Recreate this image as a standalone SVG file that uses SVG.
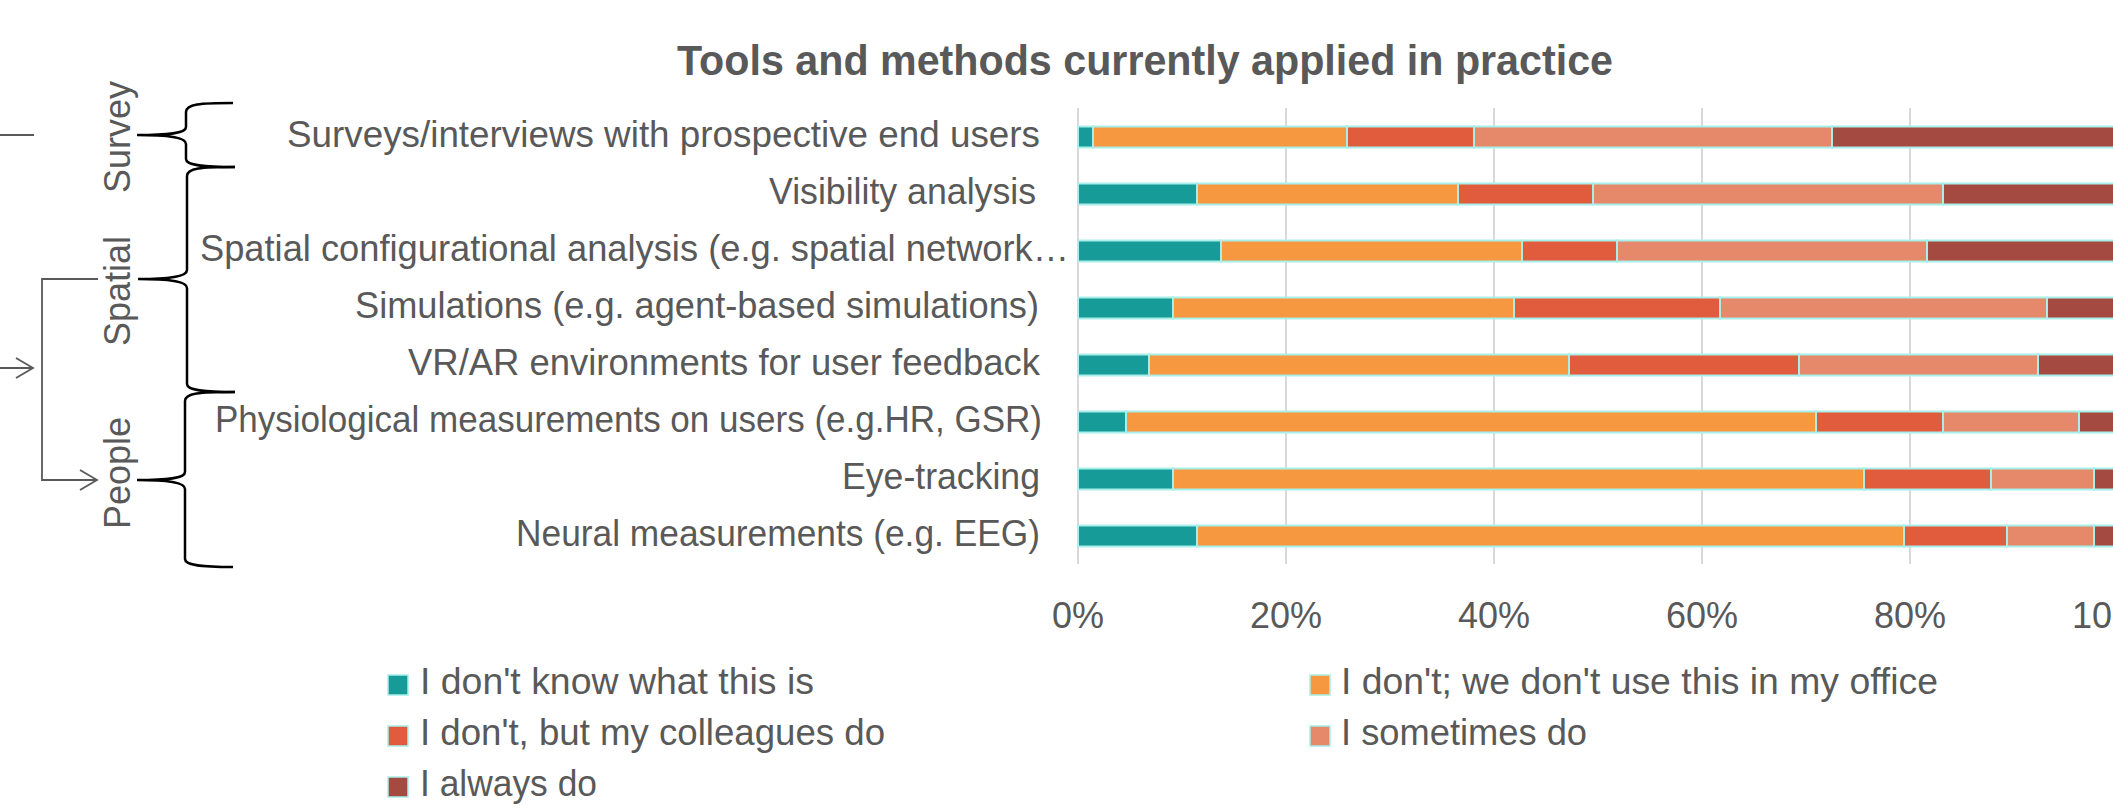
<svg xmlns="http://www.w3.org/2000/svg" width="2113" height="809" viewBox="0 0 2113 809">
<style>
text{font-family:"Liberation Sans",Arial,sans-serif;fill:#595959}
.t{font-size:36px}
.lbl{font-size:36px;text-anchor:end}
.tick{font-size:36px;text-anchor:middle}
.title{font-size:42px;font-weight:bold}
.grid{stroke:#d9d9d9;stroke-width:2}
.brace{fill:none;stroke:#000;stroke-width:2.5}
.conn{fill:none;stroke:#595959;stroke-width:1.8}
.s{stroke:#a8efea;stroke-width:2}
.a{fill:#169b98}.b{fill:#f5983f}.c{fill:#e05c3d}.d{fill:#e6896a}.e{fill:#a54a40}
.sw{stroke:#a8efea;stroke-width:1.5}
</style>
<defs>
<marker id="arr" markerUnits="userSpaceOnUse" markerWidth="20" markerHeight="24" refX="18" refY="11" orient="auto">
<path d="M1,1 L18,11 L1,21" fill="none" stroke="#595959" stroke-width="1.8"/>
</marker>
</defs>
<rect width="2113" height="809" fill="#fff"/>

<g id="title"><text class="title" x="677" y="75" textLength="936" lengthAdjust="spacingAndGlyphs">Tools and methods currently applied in practice</text></g>

<g id="connectors">
<path class="conn" d="M0,135 L34,135"/>
<path class="conn" d="M0,368 L33,368" marker-end="url(#arr)"/>
<path class="conn" d="M98,279 L42,279 L42,480 L97,480" marker-end="url(#arr)"/>
</g>

<g id="group-survey">
<path class="brace" d="M233,103 C200,103 186,104 186,112 L186,127 C186,133 172,135 137,135 C172,135 186,138 186,144 L186,159 C186,165 200,167 235,167"/>
<text class="t" transform="translate(130,137) rotate(-90)" text-anchor="middle">Survey</text>
</g>
<g id="group-spatial">
<path class="brace" d="M235,167 C201,167 187,168 187,176 L187,270 C187,276 173,279 138,279 C173,279 187,282 187,288 L187,384 C187,390 201,392 235,392"/>
<text class="t" transform="translate(130,291) rotate(-90)" text-anchor="middle">Spatial</text>
</g>
<g id="group-people">
<path class="brace" d="M235,392 C199,392 185,393 185,401 L185,472 C185,478 171,480 137,480 C171,480 185,483 185,489 L185,559 C185,565 199,567 233,567"/>
<text class="t" transform="translate(130,473) rotate(-90)" text-anchor="middle">People</text>
</g>

<g id="gridlines">
<line class="grid" x1="1078" y1="108" x2="1078" y2="564"/>
<line class="grid" x1="1286" y1="108" x2="1286" y2="564"/>
<line class="grid" x1="1494" y1="108" x2="1494" y2="564"/>
<line class="grid" x1="1702" y1="108" x2="1702" y2="564"/>
<line class="grid" x1="1910" y1="108" x2="1910" y2="564"/>
</g>

<g id="row-surveys">
<text class="lbl" x="1040" y="147" textLength="753" lengthAdjust="spacingAndGlyphs">Surveys/interviews with prospective end users</text>
<rect class="a s" x="1078" y="126.5" width="15" height="21"/>
<rect class="b s" x="1093" y="126.5" width="254" height="21"/>
<rect class="c s" x="1347" y="126.5" width="127" height="21"/>
<rect class="d s" x="1474" y="126.5" width="358" height="21"/>
<rect class="e s" x="1832" y="126.5" width="286" height="21"/>
</g>
<g id="row-visibility">
<text class="lbl" x="1036" y="204" textLength="267" lengthAdjust="spacingAndGlyphs">Visibility analysis</text>
<rect class="a s" x="1078" y="183.5" width="119" height="21"/>
<rect class="b s" x="1197" y="183.5" width="261" height="21"/>
<rect class="c s" x="1458" y="183.5" width="135" height="21"/>
<rect class="d s" x="1593" y="183.5" width="350" height="21"/>
<rect class="e s" x="1943" y="183.5" width="175" height="21"/>
</g>
<g id="row-spatial-config">
<text class="lbl" x="1069" y="261" textLength="869" lengthAdjust="spacingAndGlyphs">Spatial configurational analysis (e.g. spatial network…</text>
<rect class="a s" x="1078" y="240.5" width="143" height="21"/>
<rect class="b s" x="1221" y="240.5" width="301" height="21"/>
<rect class="c s" x="1522" y="240.5" width="95" height="21"/>
<rect class="d s" x="1617" y="240.5" width="310" height="21"/>
<rect class="e s" x="1927" y="240.5" width="191" height="21"/>
</g>
<g id="row-simulations">
<text class="lbl" x="1039" y="318" textLength="684" lengthAdjust="spacingAndGlyphs">Simulations (e.g. agent-based simulations)</text>
<rect class="a s" x="1078" y="297.5" width="95" height="21"/>
<rect class="b s" x="1173" y="297.5" width="341" height="21"/>
<rect class="c s" x="1514" y="297.5" width="206" height="21"/>
<rect class="d s" x="1720" y="297.5" width="327" height="21"/>
<rect class="e s" x="2047" y="297.5" width="71" height="21"/>
</g>
<g id="row-vrar">
<text class="lbl" x="1040" y="375" textLength="632" lengthAdjust="spacingAndGlyphs">VR/AR environments for user feedback</text>
<rect class="a s" x="1078" y="354.5" width="71" height="21"/>
<rect class="b s" x="1149" y="354.5" width="420" height="21"/>
<rect class="c s" x="1569" y="354.5" width="230" height="21"/>
<rect class="d s" x="1799" y="354.5" width="239" height="21"/>
<rect class="e s" x="2038" y="354.5" width="80" height="21"/>
</g>
<g id="row-physiological">
<text class="lbl" x="1042" y="432" textLength="827" lengthAdjust="spacingAndGlyphs">Physiological measurements on users (e.g.HR, GSR)</text>
<rect class="a s" x="1078" y="411.5" width="48" height="21"/>
<rect class="b s" x="1126" y="411.5" width="690" height="21"/>
<rect class="c s" x="1816" y="411.5" width="127" height="21"/>
<rect class="d s" x="1943" y="411.5" width="136" height="21"/>
<rect class="e s" x="2079" y="411.5" width="39" height="21"/>
</g>
<g id="row-eyetracking">
<text class="lbl" x="1040" y="489" textLength="198" lengthAdjust="spacingAndGlyphs">Eye-tracking</text>
<rect class="a s" x="1078" y="468.5" width="95" height="21"/>
<rect class="b s" x="1173" y="468.5" width="691" height="21"/>
<rect class="c s" x="1864" y="468.5" width="127" height="21"/>
<rect class="d s" x="1991" y="468.5" width="103" height="21"/>
<rect class="e s" x="2094" y="468.5" width="24" height="21"/>
</g>
<g id="row-neural">
<text class="lbl" x="1040" y="546" textLength="524" lengthAdjust="spacingAndGlyphs">Neural measurements (e.g. EEG)</text>
<rect class="a s" x="1078" y="525.5" width="119" height="21"/>
<rect class="b s" x="1197" y="525.5" width="707" height="21"/>
<rect class="c s" x="1904" y="525.5" width="103" height="21"/>
<rect class="d s" x="2007" y="525.5" width="87" height="21"/>
<rect class="e s" x="2094" y="525.5" width="24" height="21"/>
</g>

<g id="axis-labels">
<text class="tick" x="1078" y="628">0%</text>
<text class="tick" x="1286" y="628">20%</text>
<text class="tick" x="1494" y="628">40%</text>
<text class="tick" x="1702" y="628">60%</text>
<text class="tick" x="1910" y="628">80%</text>
<text class="tick" x="2118" y="628">100%</text>
</g>

<g id="legend">
<rect class="a sw" x="388" y="675" width="20" height="20"/>
<text class="t" x="420" y="694" textLength="394" lengthAdjust="spacingAndGlyphs">I don't know what this is</text>
<rect class="b sw" x="1310" y="675" width="20" height="20"/>
<text class="t" x="1341" y="694" textLength="597" lengthAdjust="spacingAndGlyphs">I don't; we don't use this in my office</text>
<rect class="c sw" x="388" y="726" width="20" height="20"/>
<text class="t" x="420" y="745" textLength="465" lengthAdjust="spacingAndGlyphs">I don't, but my colleagues do</text>
<rect class="d sw" x="1310" y="726" width="20" height="20"/>
<text class="t" x="1341" y="745" textLength="246" lengthAdjust="spacingAndGlyphs">I sometimes do</text>
<rect class="e sw" x="388" y="777" width="20" height="20"/>
<text class="t" x="420" y="796" textLength="177" lengthAdjust="spacingAndGlyphs">I always do</text>
</g>
</svg>
